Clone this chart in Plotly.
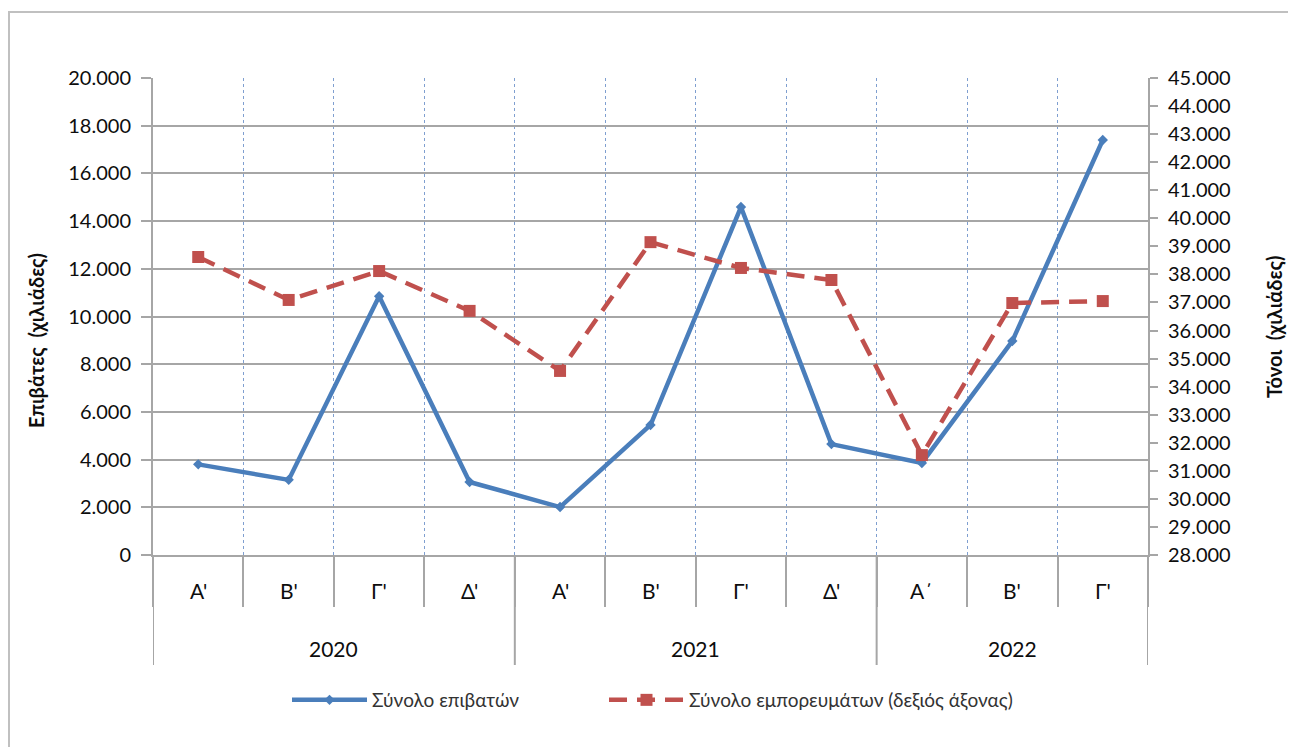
import plotly.graph_objects as go

quarters = ["Α'", "Β'", "Γ'", "Δ'", "Α'", "Β'", "Γ'", "Δ'", "Α΄", "Β'", "Γ'"]
years = ["2020", "2021", "2022"]
year_spans = [(0, 3), (4, 7), (8, 10)]
passengers = [3800, 3150, 10850, 3060, 2010, 5450, 14590, 4650, 3860, 8970, 17400]
cargo = [38620, 37090, 38120, 36700, 34560, 39150, 38230, 37800, 31560, 36980, 37050]

OFF = 8  # default page body margin
W, H = 1296 - OFF, 747 - OFF
L, R, T, B = 153 - OFF, 1148 - OFF, 78 - OFF, 555 - OFF
PW, PH = R - L, B - T


def px_x(p):  # p in page pixels
    return (p - OFF - L) / PW


def px_y(p):
    return (B - (p - OFF)) / PH


FONT = "Lato"
GRAY = "#a6a6a6"
TXT = "#0d0d0d"
x = list(range(len(quarters)))

fig = go.Figure()
fig.add_trace(go.Scatter(
    x=x, y=passengers, name="Σύνολο επιβατών", mode="lines+markers",
    line=dict(color="#4a7ebb", width=4.5),
    marker=dict(symbol="diamond", size=8, color="#4a7ebb"),
    yaxis="y", legend="legend"))
fig.add_trace(go.Scatter(
    x=x, y=cargo, name="Σύνολο εμπορευμάτων (δεξιός άξονας)", mode="lines+markers",
    line=dict(color="#c0504d", width=4.5, dash="18px,10px"),
    marker=dict(symbol="square", size=12, color="#c0504d"),
    yaxis="y2", legend="legend2"))

boundaries = [i - 0.5 for i in range(len(quarters) + 1)]

shapes = []
shapes.append(dict(type="rect", xref="paper", yref="paper",
                   x0=px_x(9), x1=px_x(1290), y0=px_y(770), y1=px_y(12),
                   line=dict(color="#c0c0c0", width=2), layer="below"))
year_bounds = [year_spans[0][0] - 0.5] + [e + 0.5 for (_, e) in year_spans]
for b in year_bounds:
    shapes.append(dict(type="line", xref="x", yref="paper", x0=b, x1=b,
                       y0=0, y1=px_y(665), line=dict(color=GRAY, width=2)))

annotations = []
for i, q in enumerate(quarters):
    annotations.append(dict(x=i, xref="x", y=px_y(590), yref="paper", text=q,
                            showarrow=False, font=dict(family=FONT, size=21, color=TXT),
                            xanchor="center", yanchor="middle"))
for yr, (s, e) in zip(years, year_spans):
    annotations.append(dict(x=(s + e) / 2, xref="x", y=px_y(648), yref="paper", text=yr,
                            showarrow=False, font=dict(family=FONT, size=21, color=TXT),
                            xanchor="center", yanchor="middle"))
annotations.append(dict(x=px_x(36), xref="paper", y=px_y(341), yref="paper",
                        text="<b>Επιβάτες  (χιλιάδες)</b>", textangle=-90, showarrow=False,
                        font=dict(family=FONT, size=20, color=TXT),
                        xanchor="center", yanchor="middle"))
annotations.append(dict(x=px_x(1274), xref="paper", y=px_y(327), yref="paper",
                        text="<b>Τόνοι  (χιλιάδες)</b>", textangle=-90, showarrow=False,
                        font=dict(family=FONT, size=20, color=TXT),
                        xanchor="center", yanchor="middle"))

legend_font = dict(family=FONT, size=19, color="#333333")
fig.update_layout(
    width=W, height=H,
    margin=dict(l=L, r=W - R, t=T, b=H - B),
    paper_bgcolor="white", plot_bgcolor="white",
    separators=",.",
    font=dict(family=FONT, size=20, color=TXT),
    showlegend=True,
    legend=dict(orientation="h", x=px_x(287), xanchor="left", y=px_y(700), yanchor="middle",
                font=legend_font, itemwidth=75, bgcolor="rgba(0,0,0,0)"),
    legend2=dict(orientation="h", x=px_x(604), xanchor="left", y=px_y(700), yanchor="middle",
                 font=legend_font, itemwidth=75, bgcolor="rgba(0,0,0,0)"),
    xaxis=dict(type="linear", range=[-0.5, len(quarters) - 0.5],
               tickvals=boundaries, showticklabels=False,
               ticks="outside", ticklen=50, tickcolor=GRAY, tickwidth=2,
               showgrid=True, gridcolor="#7f9fd0", griddash="dot", gridwidth=1,
               showline=True, linecolor=GRAY, linewidth=2, zeroline=False, fixedrange=True),
    yaxis=dict(range=[0, 20000], dtick=2000, tickformat=",d",
               ticks="outside", ticklen=10, tickcolor=GRAY, tickwidth=2,
               showgrid=True, gridcolor=GRAY, gridwidth=2,
               showline=True, linecolor=GRAY, linewidth=2, zeroline=False,
               ticklabelstandoff=6,
               tickfont=dict(family=FONT, size=20, color=TXT)),
    yaxis2=dict(range=[28000, 45000], dtick=1000, tickformat=",d", overlaying="y", side="right",
                ticks="outside", ticklen=8, tickcolor=GRAY, tickwidth=2,
                showgrid=False, showline=True, linecolor=GRAY, linewidth=2, zeroline=False,
                ticklabelstandoff=6,
                tickfont=dict(family=FONT, size=20, color=TXT)),
    shapes=shapes,
    annotations=annotations,
)

fig.write_html("out.html")
